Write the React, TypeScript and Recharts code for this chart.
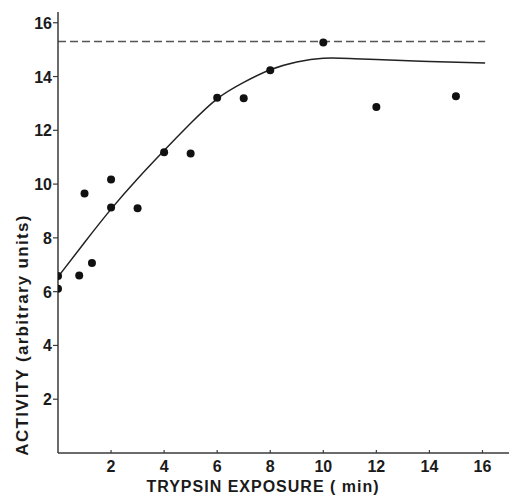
import React from 'react';
import { ComposedChart, XAxis, YAxis, Line, Scatter } from 'recharts';

const xTicks = [2, 4, 6, 8, 10, 12, 14, 16];
const yTicks = [2, 4, 6, 8, 10, 12, 14, 16];

const exposureMin = [0, 0, 0.8, 1, 1.28, 2, 2, 3, 4, 5, 6, 7, 8, 10, 12, 15];
const activity = [6.58, 6.11, 6.6, 9.65, 7.07, 10.17, 9.13, 9.1, 11.18, 11.14, 13.21, 13.19, 14.23, 15.27, 12.87, 13.27];

const curveX = [0, 1, 2, 3, 4, 5, 6, 7, 8, 9, 10, 11, 12, 14, 16.1];
const curveY = [6.55, 7.83, 9.07, 10.2, 11.25, 12.26, 13.17, 13.78, 14.25, 14.54, 14.68, 14.67, 14.63, 14.56, 14.5];

const plateauX = [0, 16.1];
const plateauY = [15.3, 15.3];

const points = exposureMin.map((x, i) => ({ x, y: activity[i] }));
const curve = curveX.map((x, i) => ({ x, y: curveY[i] }));
const plateau = plateauX.map((x, i) => ({ x, y: plateauY[i] }));

const FONT = "'Liberation Sans', Arial, Helvetica, sans-serif";
const INK = '#1a1a1a';
const AXIS = '#3a3a3a';

const XTick = (props: any) => {
  const { x, y, payload } = props;
  return (
    <g>
      <line x1={x} x2={x} y1={y - 3} y2={y} stroke={AXIS} strokeWidth={1.2} />
      <text x={x} y={y + 19} textAnchor="middle" fontFamily={FONT} fontWeight="bold" fontSize={16} fill={INK}>
        {payload.value}
      </text>
    </g>
  );
};

const YTick = (props: any) => {
  const { x, y, payload } = props;
  return (
    <text x={x} y={y + 6} textAnchor="end" fontFamily={FONT} fontWeight="bold" fontSize={16} fill={INK}>
      {payload.value}
    </text>
  );
};

const XLabel = (props: any) => {
  const vb = props.viewBox || {};
  return (
    <text
      x={263}
      y={(vb.y ?? 453) + 39}
      textAnchor="middle"
      fontFamily={FONT}
      fontWeight="bold"
      fontSize={16}
      letterSpacing={1}
      fill={INK}
    >
      TRYPSIN EXPOSURE ( min)
    </text>
  );
};

const YLabel = () => (
  <text
    x={0}
    y={0}
    transform="translate(28,335) rotate(-90)"
    textAnchor="middle"
    fontFamily={FONT}
    fontWeight="bold"
    fontSize={17}
    letterSpacing={1.3}
    fill={INK}
  >
    ACTIVITY (arbitrary units)
  </text>
);

const Dot = (props: any) => <circle cx={props.cx} cy={props.cy} r={4} fill="#111" />;

export default function App() {
  return (
    <div style={{ position: 'absolute', left: 0, top: 0, width: 509, height: 495, background: '#fff' }}>
      <ComposedChart width={509} height={495} margin={{ top: 12, right: 0, bottom: 0, left: 0 }}>
        <XAxis
          type="number"
          dataKey="x"
          domain={[0, 17]}
          ticks={xTicks}
          interval={0}
          height={42}
          axisLine={{ stroke: AXIS, strokeWidth: 1.5 }}
          tickLine={false}
          tickSize={0}
          tickMargin={0}
          tick={<XTick />}
          allowDataOverflow
          label={<XLabel />}
        />
        <YAxis
          type="number"
          dataKey="y"
          domain={[0, 16.4]}
          ticks={yTicks}
          interval={0}
          width={58}
          axisLine={{ stroke: AXIS, strokeWidth: 1.5 }}
          tickLine={{ stroke: AXIS, strokeWidth: 1.2 }}
          tickSize={5}
          tickMargin={1}
          tick={<YTick />}
          allowDataOverflow
          label={<YLabel />}
        />
        <Line
          data={plateau}
          dataKey="y"
          type="linear"
          stroke="#555"
          strokeWidth={1.5}
          strokeDasharray="8 4"
          dot={false}
          activeDot={false}
          isAnimationActive={false}
        />
        <Line
          data={curve}
          dataKey="y"
          type="natural"
          stroke="#222"
          strokeWidth={1.5}
          dot={false}
          activeDot={false}
          isAnimationActive={false}
        />
        <Scatter data={points} dataKey="y" shape={<Dot />} isAnimationActive={false} />
      </ComposedChart>
    </div>
  );
}
